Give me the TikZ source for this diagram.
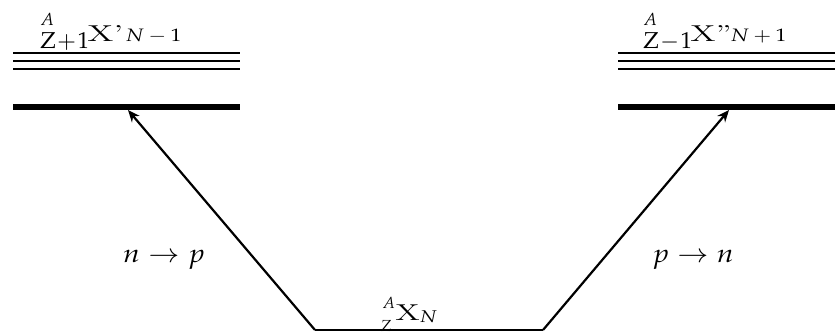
\documentclass[tikz,border=0pt]{standalone}
\usepackage{mathpazo}
\usepackage{graphicx}
\usetikzlibrary{arrows.meta}
% place a piece of text at a horizontal offset and a vertical raise, taking no width
\newcommand{\putpiece}[3]{\rlap{\hspace*{#1}\raisebox{#2}{#3}}}
\newcommand{\fsz}[1]{\fontsize{#1}{#1}\selectfont}
\begin{document}
\begin{tikzpicture}[x=0.5pt,y=-0.5pt,
  thinlevel/.style={line width=1pt},
  thicklevel/.style={line width=3pt},
  decay/.style={line width=1.1pt,-{Stealth[length=6pt,width=5pt,inset=2pt]}},
  lab/.style={inner sep=0pt}]
\useasboundingbox (0,0) rectangle (835,332);
% left levels
\coordinate (l1a) at (13,53); \coordinate (l1b) at (240,53);
\coordinate (l2a) at (13,61); \coordinate (l2b) at (240,61);
\coordinate (l3a) at (13,69); \coordinate (l3b) at (240,69);
\coordinate (lga) at (13,107); \coordinate (lgb) at (240,107);
\draw[thinlevel] (l1a) -- (l1b);
\draw[thinlevel] (l2a) -- (l2b);
\draw[thinlevel] (l3a) -- (l3b);
\draw[thicklevel] (lga) -- (lgb);
% right levels
\coordinate (r1a) at (618,53); \coordinate (r1b) at (835,53);
\coordinate (r2a) at (618,61); \coordinate (r2b) at (835,61);
\coordinate (r3a) at (618,69); \coordinate (r3b) at (835,69);
\coordinate (rga) at (618,107); \coordinate (rgb) at (835,107);
\draw[thinlevel] (r1a) -- (r1b);
\draw[thinlevel] (r2a) -- (r2b);
\draw[thinlevel] (r3a) -- (r3b);
\draw[thicklevel] (rga) -- (rgb);
% ground
\coordinate (gl) at (315,330);
\coordinate (gr) at (543,330);
\draw[line width=1pt] (gl) -- (gr);
% arrow targets
\coordinate (tl) at (128,110);
\coordinate (tr) at (729,110);
\draw[decay] (gl) -- (tl);
\draw[decay] (gr) -- (tr);
% labels
\node[lab,anchor=base west] (labl) at (40,41) {%
  \putpiece{0pt}{8pt}{\fsz{8.7}$A$}%
  \putpiece{0pt}{-3.5pt}{\fsz{11.5}$\mathrm{Z}\mkern1mu{+}\mkern1mu1$}%
  \putpiece{23.5pt}{0pt}{\fsz{11.5}\scalebox{1.55}[1]{X'}}%
  \putpiece{42.5pt}{0pt}{\fsz{9}\scalebox{1.2}[1]{$N-1$}}%
  \hspace*{68.5pt}};
\node[lab,anchor=base west] (labr) at (643,41) {%
  \putpiece{0pt}{8pt}{\fsz{8.7}$A$}%
  \putpiece{0pt}{-3.5pt}{\fsz{11.5}$\mathrm{Z}\mkern1mu{-}\mkern1mu1$}%
  \putpiece{23.5pt}{0pt}{\fsz{11.5}\scalebox{1.5}[1]{X''}}%
  \putpiece{43.5pt}{0pt}{\fsz{9}\scalebox{1.2}[1]{$N+1$}}%
  \hspace*{69.5pt}};
\node[lab,anchor=base west] (labg) at (380,320) {%
  \putpiece{1pt}{6pt}{\fsz{8}$A$}%
  \putpiece{0pt}{-5.5pt}{\fsz{8}$Z$}%
  \putpiece{7.5pt}{0pt}{\fsz{11.5}\scalebox{1.45}[1]{X}}%
  \putpiece{19.5pt}{-1pt}{\fsz{8.5}\scalebox{1.2}[1]{$N$}}%
  \hspace*{29pt}};
\node[lab,anchor=base] (np) at (164,262) {\fsz{12.8}\scalebox{1.15}[1]{$n\rightarrow p$}};
\node[lab,anchor=base] (pn) at (693,262) {\fsz{12.8}\scalebox{1.15}[1]{$p\rightarrow n$}};
\end{tikzpicture}
\end{document}
